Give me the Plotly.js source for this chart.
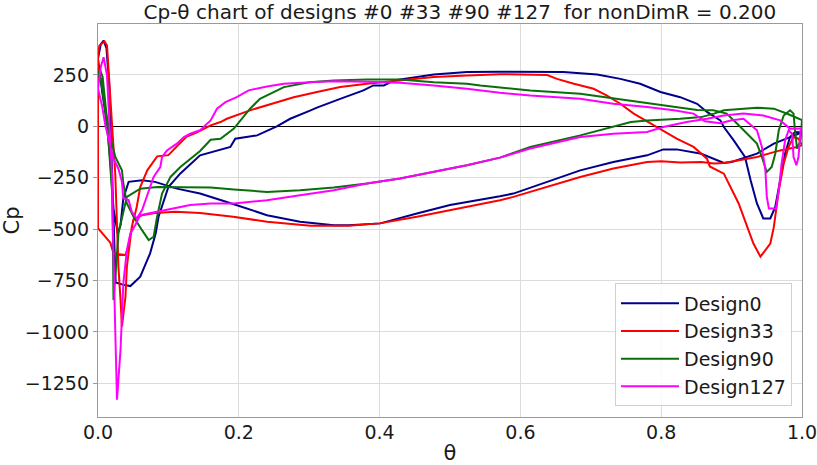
<!DOCTYPE html>
<html>
<head>
<meta charset="utf-8">
<script src="https://cdn.plot.ly/plotly-3.0.1.min.js"></script>
<style>html,body{margin:0;padding:0;background:#fff;}</style>
</head>
<body>
<div id="chart" style="width:817px;height:465px;"></div>
<script>
// ---- Data ----
const seriesNames = ["Design0", "Design33", "Design90", "Design127"];

// Design0: branch A (upper surface) and branch B (lower surface), both starting at the leading edge
const d0_upper_theta = [0,0.004,0.008,0.012,0.016,0.019,0.022,0.025,0.035,0.046,0.06,0.074,0.082,0.086,0.1,0.117,0.145,0.188,0.195,0.226,0.254,0.273,0.302,0.311,0.344,0.377,0.391,0.406,0.42,0.448,0.477,0.524,0.571,0.661,0.709,0.742,0.77,0.799,0.827,0.851,0.865,0.884,0.889,0.903,0.919,0.927,0.936,0.945,0.955,0.962,0.969,0.976,0.983,0.99,1.0];
const d0_upper_cp    = [330,400,417,380,200,-100,-450,-760,-770,-777,-731,-618,-520,-440,-295,-229,-141,-100,-60,-44,0,37,78,91,134,175,199,199,223,236,252,264,266,264,252,231,207,167,142,110,70,29,-3,-68,-149,-262,-375,-448,-448,-392,-262,-132,-52,-28,-30];
const d0_lower_theta = [0,0.003,0.006,0.013,0.018,0.022,0.028,0.032,0.036,0.0435,0.0625,0.081,0.112,0.145,0.193,0.24,0.287,0.335,0.356,0.401,0.453,0.5,0.543,0.571,0.59,0.638,0.685,0.732,0.78,0.803,0.822,0.857,0.876,0.889,0.9,0.936,0.96,0.983,1.0];
const d0_lower_cp    = [330,250,167,5,-190,-400,-520,-480,-350,-270,-262,-270,-303,-327,-379,-432,-464,-481,-481,-472,-424,-383,-357,-340,-327,-270,-214,-173,-141,-112,-112,-133,-160,-178,-173,-133,-84,-52,-30];

// Design33
const d33_upper_theta = [0,0,0.002,0.0094,0.0128,0.0175,0.02,0.0246,0.027,0.029,0.032,0.034,0.039,0.041,0.048,0.055,0.06,0.07,0.084,0.1,0.117,0.126,0.14,0.16,0.174,0.183,0.216,0.254,0.278,0.311,0.344,0.382,0.429,0.477,0.524,0.571,0.638,0.652,0.676,0.704,0.723,0.742,0.761,0.794,0.822,0.846,0.865,0.869,0.889,0.91,0.919,0.931,0.941,0.955,0.96,0.967,0.974,0.981,0.988,0.995,1.0];
const d33_upper_cp    = [-495,350,393,413,393,167,5,-238,-480,-683,-845,-974,-829,-683,-489,-392,-295,-214,-146,-140,-80,-50,-30,5,21,37,78,118,142,167,191,207,223,240,248,254,250,231,207,183,150,110,62,-3,-60,-100,-157,-195,-230,-375,-456,-570,-634,-570,-489,-311,-181,-100,-52,-60,-90];
const d33_lower_theta = [0,0.0175,0.022,0.039,0.043,0.05,0.0625,0.081,0.11,0.145,0.192,0.24,0.302,0.356,0.4,0.453,0.524,0.543,0.571,0.59,0.638,0.685,0.732,0.78,0.8,0.827,0.857,0.875,0.889,0.936,0.969,0.993,1.0];
const d33_lower_cp    = [-495,-566,-618,-626,-586,-456,-432,-421,-416,-421,-440,-464,-484,-484,-472,-440,-392,-378,-359,-343,-295,-246,-205,-173,-170,-176,-173,-181,-178,-149,-117,-100,-92];

// Design90
const d90_upper_theta = [0,0.003,0.0066,0.012,0.0175,0.0246,0.034,0.036,0.041,0.0506,0.0625,0.072,0.079,0.084,0.091,0.103,0.117,0.131,0.145,0.16,0.174,0.193,0.216,0.23,0.264,0.3,0.335,0.382,0.429,0.477,0.524,0.543,0.614,0.685,0.757,0.803,0.851,0.874,0.893,0.908,0.922,0.936,0.943,0.95,0.957,0.962,0.967,0.974,0.983,0.988,0.99,0.993,0.998,1.0];
const d90_upper_cp    = [260,275,240,60,-52,-149,-214,-278,-375,-440,-505,-553,-537,-440,-327,-246,-198,-157,-120,-65,-60,-11,86,134,191,215,223,228,228,215,207,199,175,159,126,102,80,78,62,13,-36,-84,-149,-222,-198,-133,-19,53,78,62,-19,-108,-68,30];
const d90_lower_theta = [0,0.004,0.01,0.015,0.02,0.021,0.022,0.0257,0.029,0.034,0.039,0.041,0.06,0.084,0.16,0.193,0.24,0.287,0.335,0.382,0.429,0.477,0.524,0.571,0.614,0.685,0.723,0.757,0.78,0.827,0.857,0.875,0.889,0.936,0.96,0.98,1.0];
const d90_lower_cp    = [260,230,86,-76,-319,-480,-845,-683,-521,-440,-375,-343,-303,-295,-298,-307,-319,-311,-298,-278,-254,-222,-189,-152,-100,-44,-11,21,29,37,45,62,78,91,86,60,30];

// Design127
const d127_upper_theta = [0,0.0057,0.0104,0.015,0.022,0.029,0.034,0.036,0.0435,0.048,0.055,0.0625,0.072,0.079,0.0885,0.091,0.098,0.112,0.122,0.131,0.145,0.16,0.169,0.181,0.197,0.214,0.24,0.264,0.302,0.335,0.382,0.429,0.477,0.524,0.571,0.614,0.685,0.732,0.78,0.818,0.846,0.862,0.884,0.9,0.917,0.936,0.943,0.948,0.95,0.953,0.963,0.967,0.971,0.976,0.981,0.986,0.988,0.992,0.995,0.998,1.0];
const d127_upper_cp    = [183,102,5,-60,-157,-206,-270,-351,-359,-416,-448,-408,-311,-246,-198,-149,-117,-84,-52,-36,-19,29,86,118,142,175,194,207,215,219,217,212,199,183,163,150,134,110,94,78,62,25,15,30,37,-19,-100,-214,-343,-400,-400,-311,-181,-68,-19,-36,-149,-189,-149,-19,-10];
const d127_lower_theta = [0,0.004,0.008,0.0128,0.015,0.0175,0.02,0.021,0.022,0.0246,0.027,0.032,0.036,0.041,0.046,0.053,0.06,0.084,0.131,0.16,0.193,0.24,0.287,0.335,0.382,0.429,0.477,0.524,0.571,0.614,0.685,0.732,0.78,0.803,0.836,0.865,0.889,0.917,0.945,0.969,0.983,1.0];
const d127_lower_cp    = [183,290,336,248,86,-76,-238,-480,-683,-1006,-1330,-1087,-764,-602,-521,-480,-432,-416,-383,-375,-375,-359,-335,-311,-278,-254,-222,-189,-152,-108,-52,-36,-27,-3,21,37,53,62,53,29,-11,-10];

const xTickVals = [0, 0.2, 0.4, 0.6, 0.8, 1.0];
const yTickVals = [-1250, -1000, -750, -500, -250, 0, 250];

const seriesColors = ["#00008b", "#ff0000", "#0a6e0a", "#ff00ff"];

// ---- Build closed loops: upper branch followed by the lower branch reversed ----
function loop(ut, uc, lt, lc) {
  return {
    x: ut.concat(lt.slice().reverse()),
    y: uc.concat(lc.slice().reverse())
  };
}
const loops = [
  loop(d0_upper_theta, d0_upper_cp, d0_lower_theta, d0_lower_cp),
  loop(d33_upper_theta, d33_upper_cp, d33_lower_theta, d33_lower_cp),
  loop(d90_upper_theta, d90_upper_cp, d90_lower_theta, d90_lower_cp),
  loop(d127_upper_theta, d127_upper_cp, d127_lower_theta, d127_lower_cp)
];

const traces = loops.map((l, i) => ({
  type: "scatter",
  mode: "lines",
  name: seriesNames[i],
  x: l.x,
  y: l.y,
  line: {color: seriesColors[i], width: 2},
  hoverinfo: "skip"
}));

const font = "DejaVu Sans, sans-serif";
const layout = {
  width: 817,
  height: 465,
  margin: {l: 98, r: 15, t: 24, b: 48, pad: 0},
  paper_bgcolor: "#ffffff",
  plot_bgcolor: "#ffffff",
  font: {family: font, size: 19, color: "#1a1a1a"},
  title: {
    text: "Cp-θ chart of designs #0 #33 #90 #127 \u00a0for nonDimR = 0.200",
    font: {family: font, size: 20, color: "#1a1a1a"},
    xref: "paper", x: 0.514, xanchor: "center",
    yref: "container", y: 0.975, yanchor: "middle"
  },
  xaxis: {
    range: [0, 1],
    tickvals: xTickVals,
    tickformat: ".1f",
    showgrid: true, gridcolor: "#dcdcdc", gridwidth: 1,
    zeroline: false,
    showline: true, linecolor: "#9a9a9a", linewidth: 1.2, mirror: true,
    ticks: "", ticklabelstandoff: -2,
    ticklabeloverflow: "allow",
    tickfont: {family: font, size: 19, color: "#1a1a1a"},
    title: {text: "θ", font: {family: font, size: 21, color: "#1a1a1a"}, standoff: 6},
    automargin: false
  },
  yaxis: {
    range: [-1414, 498],
    tickvals: yTickVals,
    showgrid: true, gridcolor: "#dcdcdc", gridwidth: 1,
    zeroline: true, zerolinecolor: "#000000", zerolinewidth: 1.5,
    showline: true, linecolor: "#9a9a9a", linewidth: 1.2, mirror: true,
    ticks: "outside", ticklen: 4, tickcolor: "#9a9a9a",
    ticklabeloverflow: "allow",
    tickfont: {family: font, size: 19, color: "#1a1a1a"},
    title: {text: "Cp", font: {family: font, size: 21, color: "#1a1a1a"}, standoff: 8},
    automargin: false
  },
  legend: {
    x: 0.9858, xanchor: "right",
    y: 0.027, yanchor: "bottom",
    bgcolor: "rgba(255,255,255,0.85)",
    bordercolor: "#d0d0d0", borderwidth: 1,
    font: {family: font, size: 19, color: "#1a1a1a"},
    itemwidth: 58
  },
  showlegend: true
};

Plotly.newPlot("chart", traces, layout, {staticPlot: true, displayModeBar: false});
</script>
</body>
</html>
